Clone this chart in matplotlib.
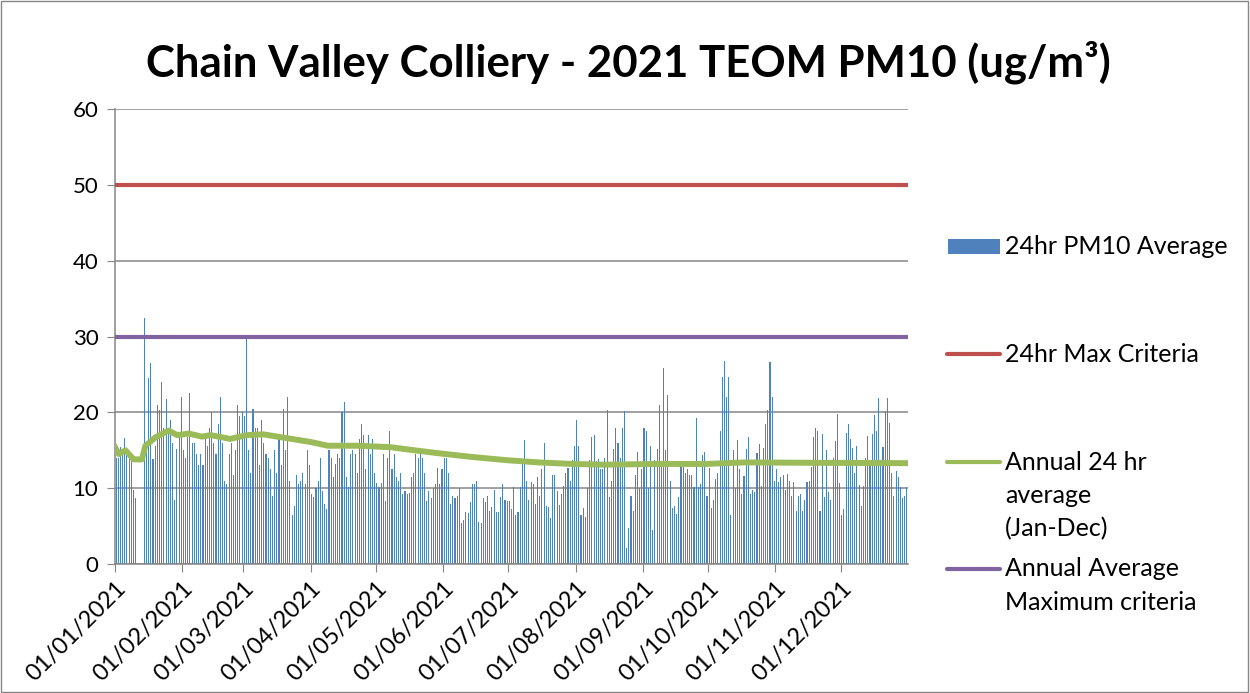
#!/usr/bin/env python3
"""
Chain Valley Colliery - 2021 TEOM PM10 daily averages
Bars for each day plus criteria lines and the running annual average
"""

import matplotlib
matplotlib.use('Agg')
import matplotlib.pyplot as plt
from matplotlib.lines import Line2D
from matplotlib.patches import Rectangle

# Daily 24hr PM10 average (ug/m3), 01/01/2021 .. 31/12/2021
pm10_daily = [
    # Jan - mid Feb
    14.0, 14.0, 15.4, 14.5, 16.6, 14.5, 14.0, 13.8, 9.8, 8.7,
    0, 0, 0,
    32.5, 15.0, 24.5, 26.5, 13.8, 15.5, 21.0, 20.3, 24.0, 18.0, 21.8, 17.5,
    19.0, 16.0, 8.4, 15.2, 17.0, 22.0, 15.0, 14.0, 16.8,
    22.5, 16.0, 16.0, 14.5, 13.0, 14.5, 13.0, 17.0, 15.5, 18.0, 20.0,
    # mid Feb - Mar
    16.0, 14.5, 18.5, 22.0, 16.0, 11.0, 10.5, 14.5, 16.0, 11.7, 15.0, 21.0,
    19.5, 20.0, 19.5, 29.9, 15.0, 12.0, 20.5, 18.0, 18.0, 13.0, 19.0, 16.0,
    14.5, 14.0, 12.5, 9.0, 15.0, 12.0, 17.0, 13.0, 20.5, 15.0, 22.0, 11.0,
    6.5, 7.7, 11.8, 10.5, 11.0, 12.0, 10.5, 15.0, 13.0,
    # Apr - mid May
    9.2, 8.9, 10.0, 11.0, 14.0, 9.6, 7.9, 7.2, 15.0, 14.0, 11.5, 13.2,
    14.5, 14.0, 20.0, 21.3, 11.5, 10.2, 14.5, 15.0, 14.5, 12.0, 16.5, 18.4,
    17.0, 12.5, 17.0, 14.5, 16.5, 12.0, 10.7, 10.2, 10.7, 14.5, 8.3, 14.0,
    17.6, 12.5, 14.5, 11.5, 11.0, 12.0, 9.2, 9.6, 9.2,
    # mid May - Jun
    9.4, 11.5, 12.0, 14.5, 14.0, 14.5, 14.0, 12.0, 8.3, 9.6, 8.7, 10.0,
    10.5, 12.7, 10.5, 12.5, 14.0, 14.0, 12.0, 7.9, 9.0, 8.7, 9.0, 10.0,
    5.4, 5.8, 6.9, 6.7, 8.2, 10.6, 10.6, 11.0, 5.6, 5.4, 8.7, 8.2,
    9.0, 7.0, 7.5, 9.7, 6.8, 6.8, 8.8, 10.5, 8.4,
    # Jul - mid Aug
    8.3, 8.3, 7.3, 10.2, 6.5, 6.8, 10.2, 13.3, 16.3, 11.0, 8.5, 10.8,
    10.5, 7.9, 11.5, 9.0, 12.5, 16.0, 7.7, 7.5, 6.1, 11.8, 11.8, 9.6,
    7.8, 9.2, 10.3, 12.0, 12.7, 11.0, 13.7, 15.5, 19.0, 15.5, 6.5, 7.4,
    6.2, 10.0, 13.7, 16.8, 17.0, 13.6, 13.8, 12.5, 12.5,
    # mid Aug - Sep
    14.0, 20.3, 8.8, 11.0, 15.2, 18.0, 16.0, 14.0, 18.0, 20.2, 2.1, 4.7,
    9.0, 7.0, 11.8, 14.8, 10.0, 12.5, 18.0, 17.5, 10.0, 15.5, 4.5, 13.7,
    15.2, 21.0, 13.5, 25.9, 15.0, 22.3, 11.0, 7.4, 7.6, 6.6, 8.8, 13.5,
    13.0, 12.0, 12.5, 11.7, 11.7, 10.2, 19.3, 10.2, 10.5,
    # Oct - mid Nov
    14.4, 14.8, 9.0, 12.7, 7.4, 8.5, 11.2, 12.0, 17.6, 24.6, 26.8, 22.0,
    24.6, 6.5, 15.0, 10.0, 16.4, 12.5, 9.2, 11.6, 15.2, 16.8, 9.3, 9.8,
    9.5, 14.7, 15.8, 10.3, 15.3, 18.5, 20.3, 26.6, 22.0, 11.0, 12.5, 10.8,
    11.5, 11.7, 9.7, 11.9, 10.9, 9.0, 10.8, 7.0, 9.0,
    # mid Nov - Dec
    9.2, 7.0, 8.5, 10.8, 11.0, 12.8, 16.7, 18.0, 17.6, 7.0, 17.2, 8.8,
    15.0, 9.5, 8.5, 14.0, 16.2, 19.8, 10.7, 6.5, 7.3, 17.3, 18.5, 16.5,
    15.3, 12.0, 15.5, 10.4, 7.7, 10.3, 14.0, 16.9, 13.5, 17.2, 19.7, 17.5,
    21.9, 13.7, 15.4, 20.2, 21.9, 18.6, 12.0, 9.0, 12.3, 11.5, 10.2, 8.7,
    9.0, 10.2,
]

# Annual 24 hr average (Jan-Dec) read at points along the green line
avg_days = [0, 1.7, 4.8, 8.6, 12.4, 14, 18.6, 24.7, 28.6, 34, 40, 44, 53,
            60.7, 68.3, 79, 89.9, 98, 112, 127, 135, 149, 165, 180, 195,
            210, 225, 250, 272, 290, 320, 365]
avg_values = [15.4, 14.5, 15.0, 13.8, 13.8, 15.6, 16.7, 17.6, 17.0, 17.2,
              16.8, 17.0, 16.5, 17.0, 17.1, 16.6, 16.1, 15.6, 15.6, 15.4,
              15.1, 14.6, 14.1, 13.7, 13.4, 13.2, 13.1, 13.2, 13.2, 13.4,
              13.35, 13.3]

max_criteria_24hr = 50
annual_max_criteria = 30

month_start_days = [0, 31, 59, 90, 120, 151, 181, 212, 243, 273, 304, 334]
month_labels = ['01/01/2021', '01/02/2021', '01/03/2021', '01/04/2021',
                '01/05/2021', '01/06/2021', '01/07/2021', '01/08/2021',
                '01/09/2021', '01/10/2021', '01/11/2021', '01/12/2021']

BLUE = '#4F81BD'
RED = '#C0504D'
GREEN = '#9BBB59'
PURPLE = '#8064A2'
GRID = '#868686'

plt.rcParams['font.family'] = ['Lato', 'DejaVu Sans']

fig = plt.figure(figsize=(12.5, 6.93), dpi=100)
ax = fig.add_axes([0.092, 0.1861, 0.6344, 0.6566])

days = [d + 0.5 for d in range(len(pm10_daily))]
ax.bar(days, pm10_daily, width=0.5, color=BLUE, linewidth=0, zorder=2)

ax.plot([0, 365], [max_criteria_24hr] * 2, color=RED, lw=3, solid_capstyle='butt', zorder=3)
ax.plot([0, 365], [annual_max_criteria] * 2, color=PURPLE, lw=3, solid_capstyle='butt', zorder=3)
ax.plot(avg_days, avg_values, color=GREEN, lw=4.3, zorder=4)

ax.set_xlim(0, 365)
ax.set_ylim(0, 60)
ax.set_yticks(range(0, 61, 10))
ax.yaxis.grid(True, color=GRID, lw=1.1, zorder=1)
ax.set_axisbelow(True)

ax.set_xticks(month_start_days)
ax.set_xticklabels(month_labels, rotation=45, ha='right', va='top',
                   rotation_mode='anchor', fontsize=17)
ax.tick_params(axis='y', labelsize=16, length=6, color=GRID, pad=6)
ax.tick_params(axis='x', length=6, color=GRID, pad=4)

for side in ['top', 'right']:
    ax.spines[side].set_visible(False)
for side in ['left', 'bottom']:
    ax.spines[side].set_color(GRID)
    ax.spines[side].set_linewidth(1.1)
ax.spines['bottom'].set_zorder(5)

fig.text(0.503, 0.91, 'Chain Valley Colliery - 2021 TEOM PM10 (ug/m³)',
         ha='center', va='center', fontsize=31.5, fontweight='bold')

# Legend drawn by hand so each handle sits level with its first text line
W, H = 1250.0, 693.0
legend_items = [
    ('bar', BLUE, 246, ['24hr PM10 Average']),
    ('line', RED, 354, ['24hr Max Criteria']),
    ('line', GREEN, 462, ['Annual 24 hr', 'average', '(Jan-Dec)']),
    ('line', PURPLE, 569, ['Annual Average', 'Maximum criteria']),
]
for kind, colour, ypix, lines in legend_items:
    yf = 1 - ypix / H
    if kind == 'bar':
        fig.add_artist(Rectangle((948 / W, 1 - 254 / H), 52 / W, 15 / H,
                                 transform=fig.transFigure, color=colour, lw=0))
    else:
        fig.add_artist(Line2D([947 / W, 1000 / W], [yf, yf], transform=fig.transFigure,
                              color=colour, lw=3, solid_capstyle='round'))
    for i, txt in enumerate(lines):
        fig.text(1005 / W, 1 - (ypix + i * 33.5) / H, txt, ha='left', va='center',
                 fontsize=18)

fig.add_artist(Rectangle((0.0005, 0.001), 0.998, 0.998, transform=fig.transFigure,
                         fill=False, edgecolor=GRID, lw=1))

fig.savefig('out.png', dpi=100)
